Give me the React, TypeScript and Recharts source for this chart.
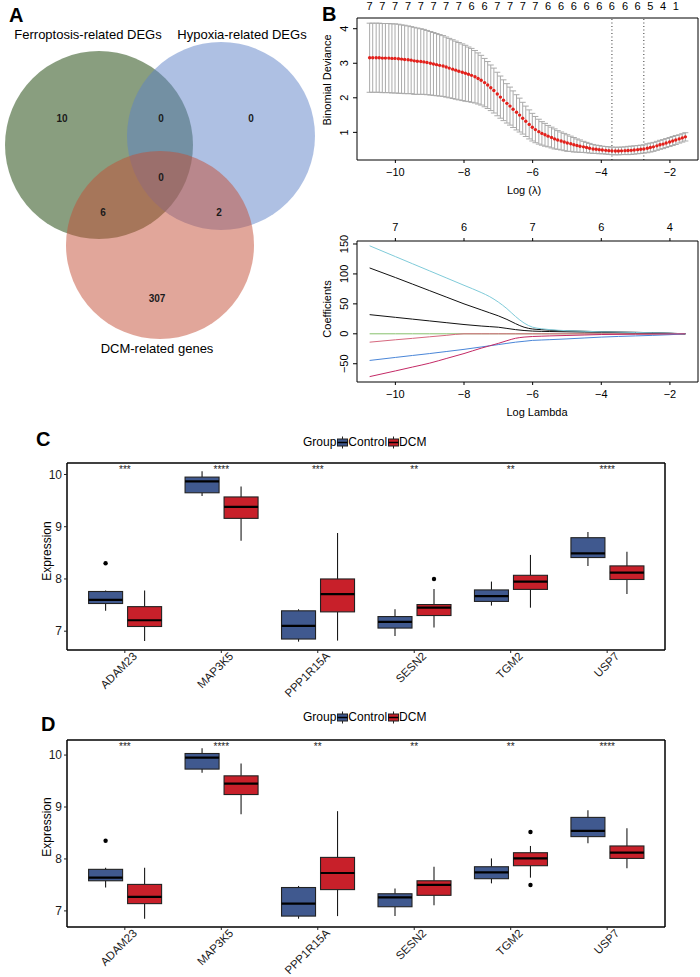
import {
  ComposedChart,
  LineChart,
  ScatterChart,
  Scatter,
  Line,
  Bar,
  XAxis,
  YAxis,
  ErrorBar,
  ReferenceLine,
  Legend,
} from 'recharts'

const FONT = '"Liberation Sans", Arial, Helvetica, sans-serif'
const MINUS = '\u2212'
const fmtNum = (v: number) => String(v).replace('-', MINUS)

// ---- panel A: venn ----
const vennSets = ['Ferroptosis-related DEGs', 'Hypoxia-related DEGs', 'DCM-related genes']
const vennCx = [99, 221, 160]
const vennCy = [145, 136, 245]
const vennR = [94, 94, 94]
const vennFill = ['#133d00', '#5d81c7', '#c34d35']
const vennCounts = [10, 0, 0, 0, 6, 2, 307]
const vennCountX = [62, 161, 251, 161, 103, 219, 157]
const vennCountY = [118, 118, 118, 177, 212, 212, 298]

// ---- panel B top: cv.glmnet ----
const cvX = [
  -10.75, -10.66, -10.56, -10.47, -10.38, -10.29, -10.19, -10.1, -10.01, -9.91,
  -9.82, -9.73, -9.63, -9.54, -9.45, -9.36, -9.26, -9.17, -9.08, -8.98,
  -8.89, -8.8, -8.71, -8.61, -8.52, -8.43, -8.33, -8.24, -8.15, -8.05,
  -7.96, -7.87, -7.78, -7.68, -7.59, -7.5, -7.4, -7.31, -7.22, -7.13,
  -7.03, -6.94, -6.85, -6.75, -6.66, -6.57, -6.47, -6.38, -6.29, -6.2,
  -6.1, -6.01, -5.92, -5.82, -5.73, -5.64, -5.55, -5.45, -5.36, -5.27,
  -5.17, -5.08, -4.99, -4.89, -4.8, -4.71, -4.62, -4.52, -4.43, -4.34,
  -4.24, -4.15, -4.06, -3.97, -3.87, -3.78, -3.69, -3.59, -3.5, -3.41,
  -3.31, -3.22, -3.13, -3.04, -2.94, -2.85, -2.76, -2.66, -2.57, -2.48,
  -2.38, -2.29, -2.2, -2.11, -2.01, -1.92, -1.83, -1.73, -1.64, -1.55,
]
const cvMean = [
  3.16, 3.16, 3.16, 3.16, 3.15, 3.15, 3.15, 3.14, 3.14, 3.13,
  3.12, 3.11, 3.1, 3.09, 3.07, 3.06, 3.05, 3.04, 3.02, 3.0,
  2.98, 2.96, 2.94, 2.92, 2.89, 2.86, 2.83, 2.8, 2.77, 2.74,
  2.71, 2.68, 2.65, 2.61, 2.56, 2.51, 2.44, 2.37, 2.29, 2.21,
  2.11, 2.02, 1.93, 1.84, 1.76, 1.67, 1.58, 1.5, 1.41, 1.32,
  1.23, 1.15, 1.08, 1.02, 0.97, 0.93, 0.89, 0.85, 0.81, 0.78,
  0.75, 0.72, 0.69, 0.67, 0.64, 0.62, 0.6, 0.58, 0.56, 0.54,
  0.52, 0.51, 0.5, 0.49, 0.48, 0.47, 0.465, 0.46, 0.46, 0.465,
  0.47, 0.475, 0.48, 0.49, 0.5, 0.51, 0.52, 0.54, 0.56, 0.58,
  0.61, 0.64, 0.66, 0.69, 0.72, 0.75, 0.78, 0.81, 0.84, 0.87,
]
const cvSd = [
  1.0, 1.0, 1.0, 1.0, 1.0, 1.0, 1.0, 1.0, 1.0, 1.0,
  0.99, 0.99, 0.98, 0.97, 0.97, 0.96, 0.95, 0.94, 0.93, 0.92,
  0.91, 0.9, 0.89, 0.88, 0.87, 0.86, 0.85, 0.84, 0.83, 0.82,
  0.81, 0.79, 0.78, 0.76, 0.74, 0.72, 0.7, 0.68, 0.66, 0.65,
  0.63, 0.61, 0.59, 0.57, 0.55, 0.53, 0.51, 0.49, 0.46, 0.44,
  0.42, 0.4, 0.38, 0.36, 0.34, 0.33, 0.31, 0.3, 0.29, 0.27,
  0.26, 0.25, 0.24, 0.22, 0.21, 0.19, 0.18, 0.16, 0.15, 0.14,
  0.13, 0.12, 0.12, 0.11, 0.11, 0.11, 0.11, 0.11, 0.11, 0.11,
  0.11, 0.12, 0.12, 0.12, 0.12, 0.12, 0.12, 0.13, 0.13, 0.13,
  0.13, 0.13, 0.13, 0.13, 0.13, 0.13, 0.13, 0.12, 0.12, 0.12,
]
const cvTopX = [
  -10.75, -10.38, -10.01, -9.63, -9.26, -8.89, -8.52, -8.15, -7.78, -7.4, -7.03, -6.66, -6.29,
  -5.92, -5.55, -5.17, -4.8, -4.43, -4.06, -3.69, -3.31, -2.94, -2.57, -2.2, -1.83,
]
const cvTopLabels = ['7', '7', '7', '7', '7', '7', '7', '7', '6', '6', '7', '7', '7', '7', '6', '6', '6', '6', '6', '6', '6', '6', '5', '4', '1']
const lambdaMin = -3.69
const lambda1se = -2.76

// ---- panel B bottom: coefficient paths ----
const coefX = [-10.75, -10, -9.5, -9, -8.5, -8, -7.5, -7.25, -7, -6.75, -6.5, -6.25, -6, -5.75, -5.5, -5, -4.5, -4, -3, -2, -1.55]
const coefCyan = [147, 129, 117, 105, 93, 81, 69, 62, 53, 42, 29, 18, 11, 8.5, 7, 5.2, 4.2, 3.3, 2.2, 1, 0]
const coefBlackA = [110, 94, 83, 72, 61, 50, 40, 35, 30, 24, 17, 11, 8, 7, 6, 5, 4.2, 3.5, 2.5, 1, 0]
const coefBlackB = [32, 27.5, 24.5, 21.5, 18.5, 15.5, 13, 12, 11, 9, 7, 5.5, 4.5, 4.1, 3.8, 3.3, 2.9, 2.5, 1.6, 0.7, 0]
const coefGreen = [0, 0, 0, 0, 0, 0, 0, 0, 0, 0, 0, 0, 0, 0, 0, 0, 0, 0, 0, 0, 0]
const coefPink = [-14, -10, -7.6, -5, -2.5, 0, 0, 0, 0, 0, 0, 0, 0, 0, 0, 0, 0, 0, 0, 0, 0]
const coefBlue = [-44.5, -39.5, -36.2, -33, -29.5, -26, -22, -20, -18, -16, -14, -12.5, -11, -10.4, -9.8, -8.5, -7, -5.5, -3.5, -1.5, 0]
const coefMagenta = [-71.5, -62, -55.5, -49, -41, -33, -24, -20, -16, -11.5, -7.5, -5.5, -4.5, -4, -3.5, -2.8, -2, -1.2, -0.6, -0.2, 0]
const coefTopTicks = [-10, -8, -6, -4, -2]
const coefTopLabels = ['7', '6', '7', '6', '4']

// ---- panels C / D: boxplots ----
const genes = ['ADAM23', 'MAP3K5', 'PPP1R15A', 'SESN2', 'TGM2', 'USP7']

const cCtrlMin = [7.39, 9.59, 6.8, 6.91, 7.49, 8.25]
const cCtrlQ1 = [7.53, 9.65, 6.85, 7.06, 7.57, 8.41]
const cCtrlMed = [7.6, 9.87, 7.1, 7.18, 7.67, 8.49]
const cCtrlQ3 = [7.76, 9.95, 7.39, 7.28, 7.79, 8.79]
const cCtrlMax = [7.78, 10.06, 7.42, 7.42, 7.95, 8.9]
const cCtrlOut = [[8.3], [], [], [], [], []]
const cDcmMin = [6.81, 8.73, 6.82, 7.07, 7.45, 7.71]
const cDcmQ1 = [7.09, 9.16, 7.37, 7.3, 7.8, 7.99]
const cDcmMed = [7.21, 9.38, 7.71, 7.45, 7.95, 8.12]
const cDcmQ3 = [7.47, 9.57, 8.0, 7.51, 8.07, 8.25]
const cDcmMax = [7.78, 9.77, 8.88, 7.81, 8.46, 8.52]
const cDcmOut = [[], [], [], [8.0], [], []]
const cStars = ['***', '****', '***', '**', '**', '****']

const dCtrlMin = [7.45, 9.66, 6.85, 6.9, 7.53, 8.3]
const dCtrlQ1 = [7.58, 9.73, 6.9, 7.08, 7.62, 8.43]
const dCtrlMed = [7.64, 9.95, 7.14, 7.26, 7.74, 8.54]
const dCtrlQ3 = [7.8, 10.03, 7.45, 7.33, 7.85, 8.8]
const dCtrlMax = [7.83, 10.13, 7.48, 7.43, 8.01, 8.94]
const dCtrlOut = [[8.35], [], [], [], [], []]
const dDcmMin = [6.85, 8.86, 6.9, 7.11, 7.64, 7.82]
const dDcmQ1 = [7.14, 9.24, 7.41, 7.3, 7.87, 8.01]
const dDcmMed = [7.27, 9.45, 7.73, 7.5, 8.01, 8.12]
const dDcmQ3 = [7.51, 9.6, 8.03, 7.58, 8.12, 8.25]
const dDcmMax = [7.83, 9.84, 8.92, 7.85, 8.25, 8.59]
const dDcmOut = [[], [], [], [], [8.52, 7.5], []]
const dStars = ['***', '****', '**', '**', '**', '****']

const CTRL_FILL = '#40598f'
const DCM_FILL = '#c8202a'

const hLabel = (text: string, x: number, y: number, fs: number) => ({
  content: () => (
    <text x={x} y={y} textAnchor="middle" dominantBaseline="central" fontSize={fs} fill="#000">
      {text}
    </text>
  ),
})

const vLabel = (text: string, x: number, y: number, fs: number) => ({
  content: () => (
    <text
      x={x}
      y={y}
      transform={`rotate(-90, ${x}, ${y})`}
      textAnchor="middle"
      dominantBaseline="central"
      fontSize={fs}
      fill="#000"
    >
      {text}
    </text>
  ),
})

const rotTick = (props: any) => {
  const { x, y, payload } = props
  return (
    <text transform={`translate(${x - 1},${y}) rotate(-90)`} x={0} y={0} textAnchor="middle" fontSize={11} fill="#000">
      {fmtNum(payload.value)}
    </text>
  )
}

function VennPanel() {
  const circles = vennSets.map((name, i) => ({ name, x: vennCx[i], y: vennCy[i], r: vennR[i] }))
  const counts = vennCounts.map((c, i) => ({ x: vennCountX[i], y: vennCountY[i], c }))
  return (
    <ScatterChart width={315} height={345} margin={{ top: 0, right: 0, bottom: 0, left: 0 }}>
      <XAxis type="number" dataKey="x" domain={[0, 315]} hide />
      <YAxis type="number" dataKey="y" domain={[0, 345]} reversed hide />
      <Scatter
        data={circles}
        isAnimationActive={false}
        shape={(p: any) => (
          <circle
            cx={p.cx}
            cy={p.cy}
            r={p.payload.r}
            fill={vennFill[vennSets.indexOf(p.payload.name)]}
            fillOpacity={0.5}
          />
        )}
      />
      <Scatter
        data={counts}
        isAnimationActive={false}
        shape={(p: any) => (
          <text
            x={p.cx}
            y={p.cy}
            textAnchor="middle"
            dominantBaseline="central"
            fontSize={10}
            fontWeight="bold"
            fill="#1a1a1a"
          >
            {p.payload.c}
          </text>
        )}
      />
    </ScatterChart>
  )
}

function CvPanel() {
  const rows = cvX.map((x, i) => ({ x, y: cvMean[i], sd: cvSd[i] }))
  const xDom = [-11.118, -1.182]
  const yDom = [0.2, 4.31]
  return (
    <ComposedChart width={400} height={200} margin={{ top: 0, right: 1, bottom: 10, left: 17 }}>
      <XAxis
        type="number"
        dataKey="x"
        domain={xDom}
        allowDataOverflow
        ticks={[-10, -8, -6, -4, -2]}
        tickFormatter={fmtNum}
        tickSize={3}
        tickMargin={5}
        height={30}
        tick={{ fontSize: 11, fill: '#000' }}
        axisLine={{ stroke: '#000' }}
        tickLine={{ stroke: '#000' }}
        label={hLabel('Log (λ)', 224, 190, 11)}
      />
      <XAxis
        xAxisId="top"
        orientation="top"
        type="number"
        dataKey="x"
        domain={xDom}
        allowDataOverflow
        ticks={cvTopX}
        interval={0}
        tickFormatter={(_v: number, i: number) => cvTopLabels[i]}
        tickSize={0}
        tickMargin={8}
        height={18}
        tickLine={false}
        tick={{ fontSize: 11, fill: '#000' }}
        axisLine={{ stroke: '#000' }}
      />
      <YAxis
        type="number"
        dataKey="y"
        domain={yDom}
        allowDataOverflow
        ticks={[1, 2, 3, 4]}
        width={40}
        tickSize={4}
        tickMargin={4}
        tick={rotTick}
        axisLine={{ stroke: '#000' }}
        tickLine={{ stroke: '#000' }}
        label={vLabel('Binomial Deviance', 27, 80, 11)}
      />
      <YAxis yAxisId="rb" orientation="right" width={1} domain={yDom} allowDataOverflow tick={false} tickLine={false} axisLine={{ stroke: '#000' }} />
      <ReferenceLine x={lambdaMin} stroke="#333" strokeDasharray="1 2.5" />
      <ReferenceLine x={lambda1se} stroke="#333" strokeDasharray="1 2.5" />
      <Scatter
        data={rows}
        dataKey="y"
        isAnimationActive={false}
        shape={(p: any) => <circle cx={p.cx} cy={p.cy} r={1.7} fill="#e3211c" />}
      >
        <ErrorBar dataKey="sd" direction="y" width={3} stroke="#aaaaaa" strokeWidth={1} isAnimationActive={false} />
      </Scatter>
    </ComposedChart>
  )
}

function CoefPanel() {
  const rows = coefX.map((x, i) => ({
    x,
    cyan: coefCyan[i],
    blackA: coefBlackA[i],
    blackB: coefBlackB[i],
    green: coefGreen[i],
    pink: coefPink[i],
    blue: coefBlue[i],
    magenta: coefMagenta[i],
  }))
  const xDom = [-11.118, -1.182]
  const yDom = [-80.5, 155]
  const series: [string, string][] = [
    ['green', '#86c06c'],
    ['pink', '#d6687e'],
    ['blackB', '#111111'],
    ['blackA', '#111111'],
    ['blue', '#4a86d8'],
    ['cyan', '#7fcbd9'],
    ['magenta', '#c42a66'],
  ]
  return (
    <LineChart width={400} height={220} data={rows} margin={{ top: 0, right: 1, bottom: 8, left: 17 }}>
      <XAxis
        type="number"
        dataKey="x"
        domain={xDom}
        allowDataOverflow
        ticks={[-10, -8, -6, -4, -2]}
        tickFormatter={fmtNum}
        tickSize={3}
        tickMargin={5}
        height={30}
        tick={{ fontSize: 11, fill: '#000' }}
        axisLine={{ stroke: '#000' }}
        tickLine={{ stroke: '#000' }}
        label={hLabel('Log Lambda', 237, 212, 11)}
      />
      <XAxis
        xAxisId="top"
        orientation="top"
        type="number"
        dataKey="x"
        domain={xDom}
        allowDataOverflow
        ticks={coefTopTicks}
        interval={0}
        tickFormatter={(_v: number, i: number) => coefTopLabels[i]}
        tickSize={3}
        tickMargin={7}
        height={41}
        tick={{ fontSize: 11, fill: '#000' }}
        axisLine={{ stroke: '#000' }}
        tickLine={{ stroke: '#000' }}
      />
      <YAxis
        type="number"
        domain={yDom}
        allowDataOverflow
        ticks={[-50, 0, 50, 100, 150]}
        width={40}
        tickSize={4}
        tickMargin={4}
        tick={rotTick}
        axisLine={{ stroke: '#000' }}
        tickLine={{ stroke: '#000' }}
        label={vLabel('Coefficients', 27, 109, 11)}
      />
      <YAxis yAxisId="rb" orientation="right" width={1} domain={yDom} allowDataOverflow tick={false} tickLine={false} axisLine={{ stroke: '#000' }} />
      {series.map(([key, color]) => (
        <Line
          key={key}
          type="monotone"
          dataKey={key}
          stroke={color}
          strokeWidth={1}
          dot={false}
          isAnimationActive={false}
        />
      ))}
    </LineChart>
  )
}

interface GroupStats {
  min: number[]
  q1: number[]
  med: number[]
  q3: number[]
  max: number[]
  out: number[][]
}

const makeBoxShape = (key: 'ctrl' | 'dcm', fill: string) => (props: any) => {
  const { x, y, width, height, payload } = props
  const s = payload[key]
  const top = Math.min(y, y + height)
  const h = Math.abs(height)
  const py = (v: number) => top + ((s.max - v) / (s.max - s.min)) * h
  const cx = x + width / 2
  return (
    <g>
      <line x1={cx} x2={cx} y1={py(s.max)} y2={py(s.q3)} stroke="#1a1a1a" strokeWidth={1.1} />
      <line x1={cx} x2={cx} y1={py(s.q1)} y2={py(s.min)} stroke="#1a1a1a" strokeWidth={1.1} />
      <rect x={x} y={py(s.q3)} width={width} height={py(s.q1) - py(s.q3)} fill={fill} stroke="#222" strokeWidth={1.1} />
      <line x1={x} x2={x + width} y1={py(s.med)} y2={py(s.med)} stroke="#000" strokeWidth={2.2} />
      {s.out.map((o: number, j: number) => (
        <circle key={j} cx={cx} cy={py(o)} r={2.2} fill="#000" />
      ))}
    </g>
  )
}

const ctrlShape = makeBoxShape('ctrl', CTRL_FILL)
const dcmShape = makeBoxShape('dcm', DCM_FILL)

function KeyGlyph({ fill }: { fill: string }) {
  return (
    <svg width={11} height={13} style={{ display: 'block', marginLeft: 1 }}>
      <line x1={5.5} x2={5.5} y1={0.5} y2={12.5} stroke="#222" strokeWidth={1} />
      <rect x={0.5} y={3} width={10} height={7} fill={fill} stroke="#222" strokeWidth={1} />
      <line x1={0.5} x2={10.5} y1={6.5} y2={6.5} stroke="#000" strokeWidth={1.5} />
    </svg>
  )
}

function GroupLegend() {
  return (
    <div style={{ display: 'flex', alignItems: 'center', fontSize: 12, lineHeight: '13px', height: 13, whiteSpace: 'nowrap', color: '#000', fontFamily: FONT }}>
      <span>Group</span>
      <KeyGlyph fill={CTRL_FILL} />
      <span>Control</span>
      <KeyGlyph fill={DCM_FILL} />
      <span>DCM</span>
    </div>
  )
}

function BoxPanel({
  ctrl,
  dcm,
  stars,
  domain,
  height,
  bottomH,
  legendTop,
  titleY,
}: {
  ctrl: GroupStats
  dcm: GroupStats
  stars: string[]
  domain: number[]
  height: number
  bottomH: number
  legendTop: number
  titleY: number
}) {
  const pick = (g: GroupStats, i: number) => ({
    min: g.min[i],
    q1: g.q1[i],
    med: g.med[i],
    q3: g.q3[i],
    max: g.max[i],
    out: g.out[i],
  })
  const rows = genes.map((gene, i) => ({
    gene,
    ctrlRange: [ctrl.min[i], ctrl.max[i]],
    dcmRange: [dcm.min[i], dcm.max[i]],
    ctrl: pick(ctrl, i),
    dcm: pick(dcm, i),
  }))
  const border = { stroke: '#000', strokeWidth: 1.5 }
  const geneTick = (props: any) => {
    const { x, y, payload } = props
    const ax = x + 7
    const ay = y - 3
    return (
      <text x={ax} y={ay} dy="0.72em" textAnchor="end" transform={`rotate(-45, ${ax}, ${ay})`} fontSize={11.5} fill="#1a1a1a">
        {payload.value}
      </text>
    )
  }
  const starTick = (props: any) => {
    const { x, y, payload } = props
    return (
      <text x={x} y={y + 10} textAnchor="middle" fontSize={10} fill="#222">
        {stars[genes.indexOf(payload.value)]}
      </text>
    )
  }
  return (
    <ComposedChart
      width={700}
      height={height}
      data={rows}
      margin={{ top: 42, right: 34, bottom: 0, left: 27 }}
      barGap={5}
    >
      <XAxis
        dataKey="gene"
        padding={{ left: 9.6, right: 9.6 }}
        height={bottomH}
        interval={0}
        tickSize={3}
        tickMargin={1}
        tick={geneTick}
        axisLine={border}
        tickLine={{ stroke: '#222' }}
      />
      <XAxis
        xAxisId="sig"
        dataKey="gene"
        orientation="top"
        padding={{ left: 9.6, right: 9.6 }}
        height={1}
        interval={0}
        tickSize={0}
        tickMargin={0}
        tickLine={false}
        tick={starTick}
        axisLine={border}
      />
      <YAxis
        domain={domain}
        allowDataOverflow
        ticks={[7, 8, 9, 10]}
        width={40}
        tickSize={3}
        tickMargin={2}
        tick={{ fontSize: 12, fill: '#1a1a1a' }}
        axisLine={border}
        tickLine={{ stroke: '#222' }}
        label={vLabel('Expression', 47, titleY, 12)}
      />
      <YAxis yAxisId="rb" orientation="right" width={1} domain={domain} allowDataOverflow tick={false} tickLine={false} axisLine={border} />
      <Legend
        verticalAlign="middle"
        align="center"
        layout="horizontal"
        wrapperStyle={{ top: legendTop, left: 303, width: 200, height: 13, margin: 0 }}
        content={() => <GroupLegend />}
      />
      <Bar dataKey="ctrlRange" name="Control" barSize={34} shape={ctrlShape} isAnimationActive={false} />
      <Bar dataKey="dcmRange" name="DCM" barSize={34} shape={dcmShape} isAnimationActive={false} />
    </ComposedChart>
  )
}

const letter = (left: number, top: number): React.CSSProperties => ({
  position: 'absolute',
  left,
  top,
  fontSize: 20,
  lineHeight: '20px',
  fontWeight: 'bold',
})

const setTitle = (center: number, top: number): React.CSSProperties => ({
  position: 'absolute',
  left: center - 100,
  width: 200,
  top,
  textAlign: 'center',
  fontSize: 13,
  lineHeight: '13px',
  whiteSpace: 'nowrap',
})

export default function App() {
  return (
    <div
      style={{
        position: 'absolute',
        left: 0,
        top: 0,
        width: 700,
        height: 977,
        background: '#fff',
        fontFamily: FONT,
        color: '#000',
        overflow: 'hidden',
      }}
    >
      <div style={{ position: 'absolute', left: 0, top: 0 }}>
        <VennPanel />
      </div>
      <div style={setTitle(88, 28)}>{vennSets[0]}</div>
      <div style={setTitle(242, 28)}>{vennSets[1]}</div>
      <div style={setTitle(157, 342)}>{vennSets[2]}</div>

      <div style={{ position: 'absolute', left: 300, top: 0 }}>
        <CvPanel />
      </div>
      <div style={{ position: 'absolute', left: 300, top: 200 }}>
        <CoefPanel />
      </div>
      <div style={{ position: 'absolute', left: 0, top: 420 }}>
        <BoxPanel
          ctrl={{ min: cCtrlMin, q1: cCtrlQ1, med: cCtrlMed, q3: cCtrlQ3, max: cCtrlMax, out: cCtrlOut }}
          dcm={{ min: cDcmMin, q1: cDcmQ1, med: cDcmMed, q3: cDcmQ3, max: cDcmMax, out: cDcmOut }}
          stars={cStars}
          domain={[6.64, 10.22]}
          height={290}
          bottomH={60}
          legendTop={16}
          titleY={131}
        />
      </div>
      <div style={{ position: 'absolute', left: 0, top: 697 }}>
        <BoxPanel
          ctrl={{ min: dCtrlMin, q1: dCtrlQ1, med: dCtrlMed, q3: dCtrlQ3, max: dCtrlMax, out: dCtrlOut }}
          dcm={{ min: dDcmMin, q1: dDcmQ1, med: dDcmMed, q3: dDcmQ3, max: dDcmMax, out: dDcmOut }}
          stars={dStars}
          domain={[6.69, 10.29]}
          height={280}
          bottomH={50}
          legendTop={14}
          titleY={130}
        />
      </div>

      <div style={letter(9, 5)}>A</div>
      <div style={letter(322, 4)}>B</div>
      <div style={letter(36, 429)}>C</div>
      <div style={letter(41, 714)}>D</div>
    </div>
  )
}
